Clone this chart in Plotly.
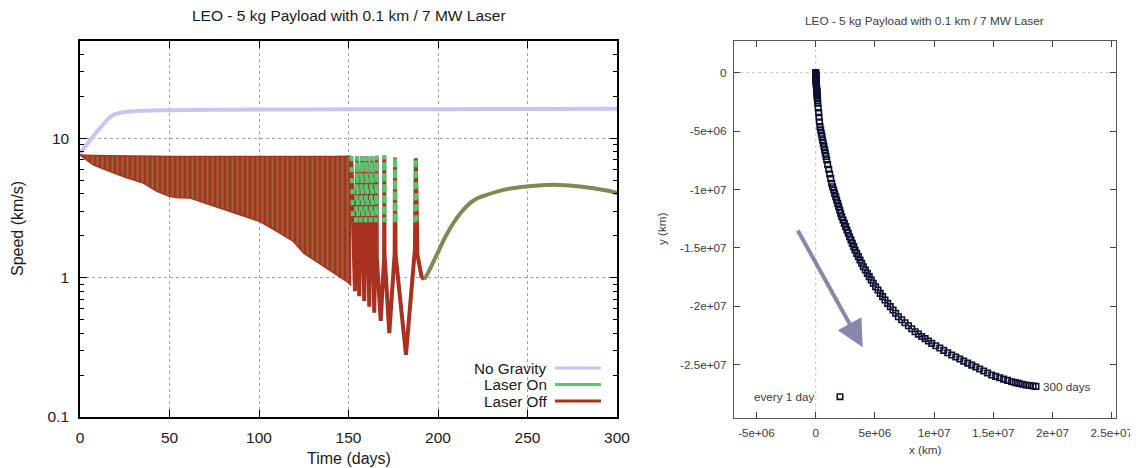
import numpy as np
import plotly.graph_objects as go

# The page body has an 8px margin, so the figure is drawn 8px in from the
# window's top-left corner; size it to fill the rest of the 1138x468 window.
PAGE_OFF = 8
W, H = 1138 - PAGE_OFF, 468 - PAGE_OFF
FONT = "Liberation Sans, Arial, sans-serif"

# ---------------- data: left chart (speed vs time) ----------------
nograv_days = [0, 4, 8, 12, 16, 17, 19, 22, 26, 32, 40, 50, 75, 100, 150, 200, 250, 300]
nograv_speed = [7.8, 9.1, 10.6, 12.2, 13.9, 14.3, 14.8, 15.2, 15.5, 15.7, 15.85, 15.95,
                16.05, 16.1, 16.15, 16.2, 16.25, 16.3]

# oscillation envelope (days 0-151.5), too dense to resolve single orbits
band_days = [0, 3, 7.4, 16.8, 25, 35.4, 43, 50.3, 55, 61.5, 72.6, 81.9, 91.2, 100.6,
             110, 119.2, 125, 135, 142, 150, 151.5]
band_lower = [7.6, 7.1, 6.46, 5.78, 5.27, 4.77, 4.16, 3.83, 3.75, 3.73, 3.34, 3.07, 2.78,
              2.53, 2.15, 1.82, 1.5, 1.24, 1.08, 0.92, 0.88]
band_upper = [7.6, 7.6, 7.55, 7.5, 7.5, 7.45, 7.45, 7.4, 7.4, 7.4, 7.4, 7.4, 7.4, 7.35,
              7.4, 7.4, 7.4, 7.4, 7.4, 7.45, 7.45]

# resolved final orbits before escape (laser off trace)
spike_days = [151.5, 153.6, 154.8, 156.0, 157.5, 158.8, 160.1, 161.6, 162.9, 164.4, 165.7,
              165.8, 168.0, 169.9, 170.0, 170.1, 172.8, 175.8, 176.0, 176.3, 182.1, 187.1,
              187.6, 187.9, 188.5, 190.8, 192.3]
spike_speed = [7.45, 0.80, 7.45, 0.735, 7.45, 0.68, 7.45, 0.62, 7.45, 0.56, 7.5,
               1.4, 0.49, 1.4, 7.55, 1.5, 0.40, 1.5, 7.3, 1.46, 0.28, 1.6,
               7.2, 1.8, 1.46, 1.02, 0.97]

# laser-on stretches near periapsis of those orbits (None separates passes)
on_days = [151.5, 152.53, None, 154.21, 154.8, 155.37, None, 156.79, 157.5, 158.09, None,
           159.51, 160.1, 160.76, None, 162.33, 162.9, 163.53, None, 165.15, 165.7, 165.77,
           None, 169.93, 170.0, 170.07, None, 175.86, 176.0, 176.2, None,
           187.25, 187.6, 187.83]
on_speed = [7.45, 2.5, None, 2.5, 7.45, 2.5, None, 2.5, 7.45, 2.5, None,
            2.5, 7.45, 2.5, None, 2.5, 7.45, 2.5, None, 2.5, 7.5, 2.5,
            None, 2.5, 7.55, 2.5, None, 2.5, 7.3, 2.5, None,
            2.5, 7.2, 2.5]

# after escape
escape_days = [192.3, 195, 199.3, 204, 208.6, 213, 217.9, 222, 227.2, 236.5, 249.5,
               264.4, 279.3, 294.2, 300]
escape_speed = [0.97, 1.12, 1.46, 1.95, 2.47, 2.95, 3.43, 3.72, 3.93, 4.27, 4.51,
                4.64, 4.51, 4.22, 4.05]

legend_names = ["No Gravity", "Laser On", "Laser Off"]

# ---------------- data: right chart (trajectory, 10^6 km) ----------------
traj_x_mkm = [0.00, 0.00, 0.00, 0.01, 0.01, 0.02, 0.02, 0.03, 0.03, 0.04, 0.05, 0.06, 0.07,
              0.08, 0.09, 0.10, 0.11, 0.12, 0.13, 0.14, 0.15, 0.16,
              0.17, 0.21, 0.25, 0.28, 0.32,
              0.36, 0.42, 0.47, 0.53, 0.58,
              0.64, 0.70, 0.76, 0.81, 0.87,
              0.93, 1.01, 1.10, 1.18, 1.27,
              1.35, 1.43, 1.52, 1.60, 1.69,
              1.77, 1.86, 1.94, 2.03, 2.11,
              2.20, 2.31, 2.42, 2.53, 2.64,
              2.75, 2.86, 2.98, 3.09, 3.21,
              3.32, 3.46, 3.60, 3.74, 3.88,
              4.02, 4.19, 4.36, 4.52, 4.69,
              4.86, 5.06, 5.26, 5.45, 5.65,
              5.85, 6.08, 6.30, 6.53, 6.75,
              6.98, 7.26, 7.54, 7.83, 8.11,
              8.39, 8.67, 8.95, 9.24, 9.52,
              9.80, 10.14, 10.48, 10.81, 11.15,
              11.49, 11.83, 12.17, 12.50, 12.84,
              13.18, 13.52, 13.85, 14.19, 14.52,
              14.86, 15.20, 15.54, 15.87, 16.21,
              16.55, 16.85, 17.15, 17.45, 17.75, 18.05, 18.35, 18.60]
traj_y_mkm = [0.00, -0.05, -0.10, -0.20, -0.30, -0.40, -0.50, -0.62, -0.75, -0.88, -1.00,
              -1.12, -1.25, -1.38, -1.50, -1.62, -1.75, -1.88, -2.00, -2.12, -2.25, -2.40,
              -2.62, -3.02, -3.42, -3.82, -4.22,
              -4.62, -4.90, -5.19, -5.47, -5.76,
              -6.04, -6.33, -6.61, -6.90, -7.18,
              -7.47, -7.87, -8.27, -8.67, -9.07,
              -9.47, -9.76, -10.04, -10.33, -10.61,
              -10.90, -11.19, -11.47, -11.76, -12.04,
              -12.33, -12.61, -12.90, -13.18, -13.47,
              -13.75, -14.04, -14.32, -14.61, -14.89,
              -15.18, -15.47, -15.75, -16.04, -16.32,
              -16.61, -16.89, -17.18, -17.46, -17.75,
              -18.03, -18.32, -18.60, -18.89, -19.17,
              -19.46, -19.75, -20.03, -20.32, -20.60,
              -20.89, -21.15, -21.41, -21.66, -21.92,
              -22.18, -22.38, -22.58, -22.77, -22.97,
              -23.17, -23.37, -23.57, -23.77, -23.97,
              -24.17, -24.34, -24.51, -24.69, -24.86,
              -25.03, -25.20, -25.37, -25.54, -25.71,
              -25.88, -26.00, -26.11, -26.23, -26.34,
              -26.46, -26.53, -26.60, -26.67, -26.73, -26.78, -26.82, -26.85]
traj_x_km = np.array(traj_x_mkm) * 1e6
traj_y_km = np.array(traj_y_mkm) * 1e6

# direction arrow (tail -> tip), km
arrow_tail_km = (-1.58e6, -13.38e6)
arrow_tip_km = (3.97e6, -23.51e6)

x2_ticks = [-5e6, 0, 5e6, 1e7, 1.5e7, 2e7, 2.5e7]
x2_ticktext = ["-5e+06", "0", "5e+06", "1e+07", "1.5e+07", "2e+07", "2.5e+07"]
y2_ticks = [0, -5e6, -1e7, -1.5e7, -2e7, -2.5e7]
y2_ticktext = ["0", "-5e+06", "-1e+07", "-1.5e+07", "-2e+07", "-2.5e+07"]

TITLE = "LEO - 5 kg Payload with 0.1 km / 7 MW Laser"

# ---------------- styles ----------------
C_NOGRAV = "#c6c6f6"
C_ON = "#52c874"
C_OFF = "#a8321f"
C_BAND = "#a8341f"
C_OLIVE = "#7f8952"
C_TRAJ = "#0c1030"
C_ARROW = "rgb(136,136,170)"
TXT = "#1a1a1a"
TXT2 = "#3c3c3c"


def px_x(p):
    """window pixel column -> paper fraction"""
    return (p - PAGE_OFF) / W


def px_y(p):
    """window pixel row -> paper fraction"""
    return 1 - (p - PAGE_OFF) / H


fig = go.Figure()

common = dict(showlegend=False, hoverinfo="skip")

fig.add_trace(go.Scatter(x=nograv_days, y=nograv_speed, mode="lines",
                         line=dict(color=C_NOGRAV, width=4, shape="spline", smoothing=0.5),
                         xaxis="x", yaxis="y", name=legend_names[0], **common))
fig.add_trace(go.Scatter(x=band_days, y=band_lower, mode="lines",
                         line=dict(color=C_BAND, width=1.5),
                         xaxis="x", yaxis="y", name=legend_names[2], **common))
fig.add_trace(go.Scatter(x=band_days, y=band_upper, mode="lines", fill="tonexty",
                         fillcolor=C_BAND,
                         fillpattern=dict(shape="|", fgcolor="#8a7a48", bgcolor=C_BAND,
                                          size=5, solidity=0.35, fgopacity=0.8),
                         line=dict(color=C_BAND, width=1.5),
                         xaxis="x", yaxis="y", name=legend_names[2], **common))
fig.add_trace(go.Scatter(x=spike_days, y=spike_speed, mode="lines",
                         line=dict(color=C_OFF, width=4),
                         xaxis="x", yaxis="y", name=legend_names[2], **common))
fig.add_trace(go.Scatter(x=on_days, y=on_speed, mode="lines", connectgaps=False,
                         line=dict(color=C_ON, width=4, dash="5px,6px"),
                         xaxis="x", yaxis="y", name=legend_names[1], **common))
fig.add_trace(go.Scatter(x=escape_days, y=escape_speed, mode="lines",
                         line=dict(color=C_OLIVE, width=4, shape="spline", smoothing=0.6),
                         xaxis="x", yaxis="y", name=legend_names[1], **common))

fig.add_trace(go.Scatter(x=traj_x_km, y=traj_y_km, mode="markers",
                         marker=dict(symbol="square-open", size=5.5, color=C_TRAJ,
                                     line=dict(width=1.6, color=C_TRAJ)),
                         xaxis="x2", yaxis="y2", name="every 1 day", **common))

tickfont_l = dict(family=FONT, size=15.5, color=TXT)
tickfont_r = dict(family=FONT, size=11.7, color=TXT2)

fig.update_layout(
    width=W, height=H, margin=dict(l=0, r=0, t=0, b=0, autoexpand=False),
    paper_bgcolor="white", plot_bgcolor="white", showlegend=False,
    xaxis=dict(domain=[px_x(80), px_x(617)], range=[0, 300], anchor="y", automargin=False,
               tickvals=[0, 50, 100, 150, 200, 250, 300],
               ticks="inside", ticklen=7, tickcolor="black", tickwidth=1,
               showline=True, linecolor="black", linewidth=1.5, mirror="ticks",
               showgrid=True, gridcolor="#a0a0a0", griddash="dot", gridwidth=1,
               zeroline=False, tickfont=tickfont_l, ticklabelstandoff=6),
    yaxis=dict(domain=[px_y(417), px_y(41)], type="log", range=[-1, np.log10(50)],
               anchor="x", automargin=False, tickvals=[0.1, 1, 10], ticktext=["0.1", "1", "10"],
               ticks="inside", ticklen=7, tickcolor="black", tickwidth=1,
               showline=True, linecolor="black", linewidth=1.5, mirror="ticks",
               showgrid=True, gridcolor="#a0a0a0", griddash="dot", gridwidth=1,
               zeroline=False, tickfont=tickfont_l, ticklabelstandoff=6,
               minor=dict(ticks="inside", ticklen=4, tickcolor="black", tickwidth=1,
                          tickvals=[0.2, 0.3, 0.4, 0.5, 0.6, 0.7, 0.8, 0.9,
                                    2, 3, 4, 5, 6, 7, 8, 9, 20, 30, 40],
                          showgrid=False)),
    xaxis2=dict(domain=[px_x(734), px_x(1116)], range=[-6.9e6, 25.36e6], anchor="y2",
                automargin=False, tickvals=x2_ticks, ticktext=x2_ticktext,
                ticks="inside", ticklen=6, tickcolor="#444", tickwidth=1,
                showline=True, linecolor="#555", linewidth=1.2, mirror="ticks",
                showgrid=False, zeroline=False, tickfont=tickfont_r, ticklabelstandoff=4),
    yaxis2=dict(domain=[px_y(418), px_y(41)], range=[-29.56e6, 2.71e6], anchor="x2",
                automargin=False, tickvals=y2_ticks, ticktext=y2_ticktext,
                ticks="inside", ticklen=6, tickcolor="#444", tickwidth=1,
                showline=True, linecolor="#555", linewidth=1.2, mirror="ticks",
                showgrid=False, zeroline=False, tickfont=tickfont_r, ticklabelstandoff=4),
)

shapes = [
    dict(type="line", xref="x2", yref="y2 domain", x0=0, x1=0, y0=0, y1=1,
         line=dict(color="#c4c4c4", width=1, dash="dot"), layer="below"),
    dict(type="line", xref="x2 domain", yref="y2", x0=0, x1=1, y0=0, y1=0,
         line=dict(color="#c4c4c4", width=1, dash="dot"), layer="below"),
    # key sample for trajectory markers
    dict(type="rect", xref="paper", yref="paper",
         x0=px_x(837.3), x1=px_x(842.7), y0=px_y(399.4), y1=px_y(394.0),
         line=dict(color=C_TRAJ, width=1.6)),
]

annotations = [
    dict(text=TITLE, x=px_x(348.5), y=px_y(15), xref="paper", yref="paper",
         showarrow=False, xanchor="center", yanchor="middle",
         font=dict(family=FONT, size=15.5, color=TXT)),
    dict(text=TITLE, x=px_x(924), y=px_y(21.5), xref="paper", yref="paper",
         showarrow=False, xanchor="center", yanchor="middle",
         font=dict(family=FONT, size=11.8, color=TXT2)),
    dict(text="Time (days)", x=px_x(349), y=px_y(458), xref="paper", yref="paper",
         showarrow=False, xanchor="center", yanchor="middle",
         font=dict(family=FONT, size=16, color=TXT)),
    dict(text="Speed (km/s)", x=px_x(17), y=px_y(229), xref="paper", yref="paper",
         showarrow=False, xanchor="center", yanchor="middle", textangle=-90,
         font=dict(family=FONT, size=16, color=TXT)),
    dict(text="x (km)", x=px_x(925), y=px_y(449), xref="paper", yref="paper",
         showarrow=False, xanchor="center", yanchor="middle",
         font=dict(family=FONT, size=11.7, color=TXT2)),
    dict(text="y (km)", x=px_x(661), y=px_y(229), xref="paper", yref="paper",
         showarrow=False, xanchor="center", yanchor="middle", textangle=-90,
         font=dict(family=FONT, size=11.7, color=TXT2)),
    dict(text="every 1 day", x=px_x(817), y=px_y(396.7), xref="paper", yref="paper",
         showarrow=False, xanchor="right", yanchor="middle",
         font=dict(family=FONT, size=11.7, color=TXT2)),
    dict(text="300 days", x=traj_x_km[-1], y=traj_y_km[-1], xref="x2", yref="y2",
         showarrow=False, xanchor="left", yanchor="middle", xshift=5,
         font=dict(family=FONT, size=11.7, color=TXT2)),
    dict(text="", x=arrow_tip_km[0], y=arrow_tip_km[1], xref="x2", yref="y2",
         ax=arrow_tail_km[0], ay=arrow_tail_km[1], axref="x2", ayref="y2",
         showarrow=True, arrowhead=2, arrowsize=1.35, arrowwidth=4,
         arrowcolor=C_ARROW, standoff=0),
]

# manual key (text left, sample right) for the speed chart
legend_colors = [C_NOGRAV, C_ON, C_OFF]
key_rows = [368, 384.5, 401]
for name, col, yy in zip(legend_names, legend_colors, key_rows):
    annotations.append(dict(text=name, x=px_x(548.5), y=px_y(yy), xref="paper", yref="paper",
                            showarrow=False, xanchor="right", yanchor="middle",
                            font=dict(family=FONT, size=15.3, color=TXT)))
    shapes.append(dict(type="line", xref="paper", yref="paper",
                       x0=px_x(555), x1=px_x(601), y0=px_y(yy), y1=px_y(yy),
                       line=dict(color=col, width=3)))

fig.update_layout(shapes=shapes, annotations=annotations)

fig.write_html("out.html")
